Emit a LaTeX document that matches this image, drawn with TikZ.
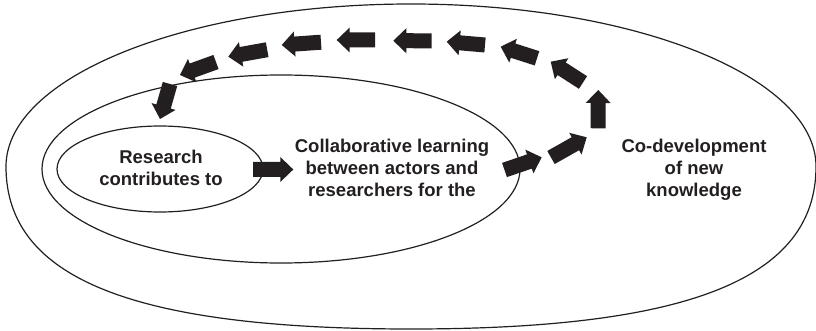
\documentclass[tikz,border=0pt]{standalone}
\usepackage{fontspec}
\setmainfont{Liberation Sans}
\usetikzlibrary{calc}
\definecolor{ink}{RGB}{35,31,32}
\tikzset{
  ring/.style={draw=ink, line width=1.2pt},
  lbl/.style={inner sep=0pt, align=center, text=ink,
    font=\bfseries\fontsize{18.5}{22}\selectfont},
  arrowfill/.style={fill=ink}
}
\newcommand\blockarrow[2]{%
  \fill[arrowfill] ($(#1)!7.5pt!90:(#2)$)
    -- ($(#2)!13pt!(#1)!7.5pt!-90:(#1)$)
    -- ($(#2)!13pt!(#1)!12.5pt!-90:(#1)$)
    -- (#2)
    -- ($(#2)!13pt!(#1)!12.5pt!90:(#1)$)
    -- ($(#2)!13pt!(#1)!7.5pt!90:(#1)$)
    -- ($(#1)!7.5pt!-90:(#2)$) -- cycle;}
\begin{document}
\begin{tikzpicture}[x=1pt,y=-1pt]
\useasboundingbox (0,0) rectangle (816,331);
% outer ring: elliptic top, fuller bottom
\draw[ring] (6,166.5)
  .. controls (6,76.75) and (187.3,4) .. (411,4)
  .. controls (634.7,4) and (816,76.75) .. (816,166.5)
  .. controls (816,278.3) and (689.6,329) .. (411,329)
  .. controls (132.4,329) and (6,278.3) .. cycle;
\draw[ring] (281,169) ellipse [x radius=239, y radius=94];
\draw[ring] (160,169) ellipse [x radius=103, y radius=43];
% texts
\node[lbl, anchor=north] (research) at (161,150) {Research\\contributes to};
\node[lbl, anchor=north] (collab) at (392,138.5) {Collaborative learning\\between actors and\\researchers for the};
\node[lbl, anchor=north] (codev) at (694,138.5) {Co-development\\of new\\knowledge};
% arrow end points
\coordinate (t0) at (253,169.5);   \coordinate (h0) at (293.3,169.5);
\coordinate (t1) at (504.5,170);   \coordinate (h1) at (541.7,157.3);
\coordinate (t2) at (551,157.5);   \coordinate (h2) at (586.7,137.3);
\coordinate (t3) at (598,128.3);   \coordinate (h3) at (598.3,90);
\coordinate (t4) at (583,82.5);    \coordinate (h4) at (550.7,61.7);
\coordinate (t5) at (537,58.3);    \coordinate (h5) at (500.7,46.7);
\coordinate (t6) at (485,45);      \coordinate (h6) at (446.7,41.7);
\coordinate (t7) at (431.7,40.8);  \coordinate (h7) at (393.3,40.7);
\coordinate (t8) at (375,40);      \coordinate (h8) at (336.7,40);
\coordinate (t9) at (321,42.2);    \coordinate (h9) at (281.7,45);
\coordinate (t10) at (267.2,49.7); \coordinate (h10) at (228.3,56.7);
\coordinate (t11) at (216,62);     \coordinate (h11) at (180,75);
\coordinate (t12) at (170,84);     \coordinate (h12) at (160,119);
\foreach \i in {0,...,12}{\blockarrow{t\i}{h\i}}
\end{tikzpicture}
\end{document}
